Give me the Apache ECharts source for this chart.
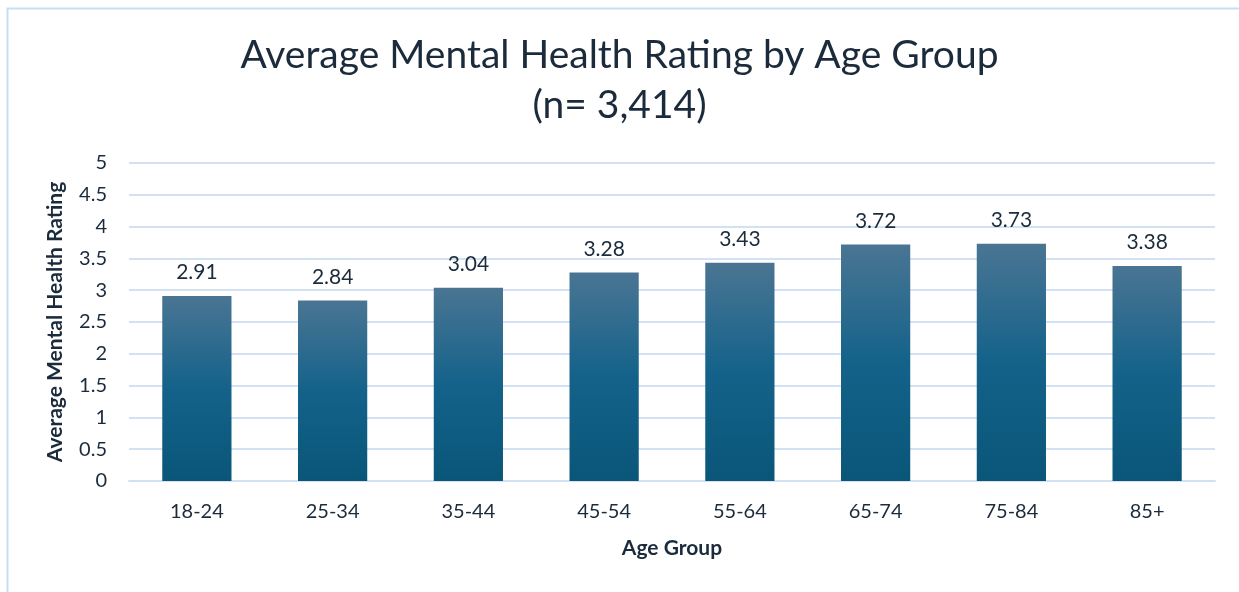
<!DOCTYPE html>
<html>
<head>
<meta charset="utf-8">
<script src="https://cdn.jsdelivr.net/npm/echarts@6/dist/echarts.min.js"></script>
<style>
  html, body { margin: 0; padding: 0; background: #fff; }
  #chart { width: 1239px; height: 592px; }
</style>
</head>
<body>
<div id="chart"></div>
<script>
  // data
  var ageGroups = ['18-24', '25-34', '35-44', '45-54', '55-64', '65-74', '75-84', '85+']
  var avgRating = [2.91, 2.84, 3.04, 3.28, 3.43, 3.72, 3.73, 3.38]
  var titleLines = ['Average Mental Health Rating by Age Group', '(n= 3,414)']

  var textColor = '#1b2b3c'
  var font = 'Lato, "Open Sans", sans-serif'

  var chart = echarts.init(document.getElementById('chart'), null, { renderer: 'canvas' })

  chart.setOption({
    animation: false,
    textStyle: { fontFamily: font },
    title: {
      text: titleLines.join('\n'),
      left: 'center',
      top: 25,
      textStyle: {
        fontFamily: font,
        fontSize: 39,
        fontWeight: 'normal',
        color: textColor,
        lineHeight: 50
      }
    },
    graphic: [
      {
        type: 'rect',
        left: 5,
        top: 6,
        shape: { width: 1400, height: 700 },
        style: { fill: 'none', stroke: '#c9ddf1', lineWidth: 2 },
        silent: true
      }
    ],
    grid: {
      left: 129,
      right: 24,
      top: 163,
      bottom: 111
    },
    xAxis: {
      type: 'category',
      data: ageGroups,
      name: 'Age Group',
      nameLocation: 'middle',
      nameGap: 57,
      nameTextStyle: { fontFamily: font, fontSize: 21, fontWeight: 'bold', color: textColor },
      axisLine: { show: true, lineStyle: { color: '#d3e2f2', width: 2 } },
      axisTick: { show: false },
      axisLabel: { fontFamily: font, fontSize: 20, color: textColor, margin: 21 }
    },
    yAxis: {
      type: 'value',
      min: 0,
      max: 5,
      interval: 0.5,
      name: 'Average Mental Health Rating',
      nameLocation: 'middle',
      nameGap: 63,
      nameRotate: 90,
      nameTextStyle: { fontFamily: font, fontSize: 21, fontWeight: 'bold', color: textColor },
      axisLine: { show: false },
      axisTick: { show: false },
      axisLabel: { fontFamily: font, fontSize: 20, color: textColor, margin: 22 },
      splitLine: { lineStyle: { color: '#d3e2f2', width: 2 } }
    },
    series: [
      {
        type: 'bar',
        data: avgRating,
        barWidth: '51%',
        itemStyle: {
          color: new echarts.graphic.LinearGradient(0, 0, 0, 1, [
            { offset: 0, color: '#4a7593' },
            { offset: 0.5, color: '#14628a' },
            { offset: 1, color: '#0a5679' }
          ])
        },
        label: {
          show: true,
          position: 'top',
          distance: 13,
          fontFamily: font,
          fontSize: 21,
          color: textColor,
          formatter: function (p) { return p.value.toFixed(2) }
        }
      }
    ]
  })
</script>
</body>
</html>
